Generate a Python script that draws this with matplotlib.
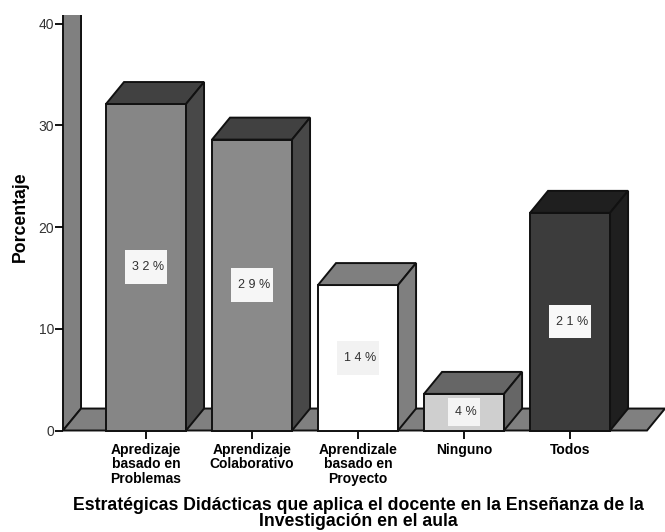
import matplotlib
matplotlib.use("Agg")
import matplotlib.pyplot as plt
from matplotlib.patches import Polygon, Rectangle

categorias = ["Apredizaje\nbasado en\nProblemas", "Aprendizaje\nColaborativo", "Aprendizale\nbasado en\nProyecto", "Ninguno", "Todos"]
porcentajes = [32.1, 28.6, 14.3, 3.6, 21.4]
etiquetas = ["3 2 %", "2 9 %", "1 4 %", "4 %", "2 1 %"]
color_frente = ["#868686", "#8a8a8a", "#ffffff", "#cfcfcf", "#3c3c3c"]
color_tapa = ["#414141", "#414141", "#7f7f7f", "#666666", "#1f1f1f"]
color_lado = ["#484848", "#484848", "#7f7f7f", "#666666", "#1f1f1f"]
color_caja = ["#f6f6f6", "#f6f6f6", "#f2f2f2", "#f4f4f4", "#f8f8f8"]
yticks = [0, 10, 20, 30, 40]

W, H = 665, 532
ANCHO = 0.755
# profundidad del efecto 3D
DX = 0.17
DY = 2.16
GRIS = "#808080"

plt.rcParams["font.family"] = "Liberation Sans"

fig = plt.figure(figsize=(W / 100, H / 100), dpi=100)
ax = fig.add_axes([63 / W, 1 - 430.5 / H, 584 / W, 415.5 / H])
ax.set_xlim(-0.783, 4.726)
ax.set_ylim(0, 40.85)
ax.patch.set_visible(False)

xmin, xmax = ax.get_xlim()
ymax = ax.get_ylim()[1]


def cara(puntos, color, z=2):
    ax.add_patch(Polygon(puntos, closed=True, facecolor=color, edgecolor="#111111", linewidth=1.4, zorder=z, clip_on=False))


# pared y piso
cara([(xmin, 0), (xmin + DX, DY), (xmin + DX, ymax + 3), (xmin, ymax + 3)], GRIS, 1)
cara([(xmin, 0), (xmin + DX, DY), (xmax + DX, DY), (xmax, 0)], GRIS, 1)

for i, v in enumerate(porcentajes):
    x0 = i - ANCHO / 2
    x1 = i + ANCHO / 2
    cara([(x0, 0), (x1, 0), (x1, v), (x0, v)], color_frente[i], 3 + i)
    cara([(x0, v), (x1, v), (x1 + DX, v + DY), (x0 + DX, v + DY)], color_tapa[i], 3 + i)
    cara([(x1, 0), (x1 + DX, DY), (x1 + DX, v + DY), (x1, v)], color_lado[i], 3 + i)

    # caja de la etiqueta
    bw = 0.39 if len(etiquetas[i]) > 3 else 0.31
    bh = 3.3 if len(etiquetas[i]) > 3 else 2.75
    ax.add_patch(Rectangle((i - bw / 2, v / 2 - bh / 2), bw, bh, facecolor=color_caja[i], edgecolor="none", zorder=10))
    ax.text(i + 0.02, v / 2, etiquetas[i], ha="center", va="center", fontsize=9, color="#303030", zorder=11)

for lado in ["top", "right", "left", "bottom"]:
    ax.spines[lado].set_visible(False)

# la pared se corta arriba
fig.patches.append(Rectangle((0, 1 - 15 / H), 1, 15 / H, transform=fig.transFigure, facecolor="white", edgecolor="none", zorder=20))

ax.set_yticks(yticks)
ax.set_xticks(range(len(categorias)))
ax.set_xticklabels(categorias, fontsize=10, fontweight="bold", linespacing=1.05)
ax.tick_params(axis="y", length=5.5, width=1.3, labelsize=10, pad=1, labelcolor="#333333")
ax.tick_params(axis="x", length=5.5, width=1.3, pad=3.2)

fig.text(20 / W, 1 - 217 / H, "Porcentaje", rotation=90, ha="center", va="center",
         fontsize=12.7, fontweight="bold")
fig.text(358 / W, 1 - 513.5 / H,
         "Estratégicas Didácticas que aplica el docente en la Enseñanza de la\nInvestigación en el aula",
         ha="center", va="center", fontsize=12.7, fontweight="bold", linespacing=0.95)

fig.savefig("out.png", dpi=100)
